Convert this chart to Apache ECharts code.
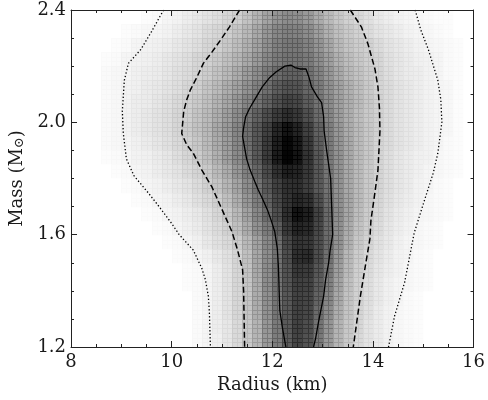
<!DOCTYPE html>
<html>
<head>
<meta charset="utf-8">
<script src="https://cdn.jsdelivr.net/npm/echarts@6/dist/echarts.min.js"></script>
<style>html,body{margin:0;padding:0;background:#fff}#c{width:488px;height:400px}</style>
</head>
<body>
<div id="c"></div>
<script>
// Cell centres (radius in km, mass in solar masses; mass rows listed top to bottom)
const radiusCenters = [8.1,8.3,8.5,8.7,8.9,9.1,9.3,9.5,9.7,9.9,10.1,10.3,10.5,10.7,10.9,11.1,11.3,11.5,11.7,11.9,12.1,12.3,12.5,12.7,12.9,13.1,13.3,13.5,13.7,13.9,14.1,14.3,14.5,14.7,14.9,15.1,15.3,15.5,15.7,15.9];
const massCenters = [2.375,2.325,2.275,2.225,2.175,2.125,2.075,2.025,1.975,1.925,1.875,1.825,1.775,1.725,1.675,1.625,1.575,1.525,1.475,1.425,1.375,1.325,1.275,1.225];
const cellW = 0.2, cellH = 0.05;

// Posterior density (0 = white, 100 = black), one row per mass centre
const densityRows = [
[0,0,0,0,0,0,0,1,2,4, 5,7,9,11,13,16,19,24,30,36, 42,45,44,40,33,27,22,18,15,12, 9,7,5,4,3,2,1,1,0,0],
[0,0,0,0,0,1,2,3,4,5, 7,9,11,14,16,19,23,28,34,41, 47,50,49,45,38,31,25,21,18,14, 11,9,7,5,4,3,2,1,0,0],
[0,0,0,0,1,2,4,5,6,7, 9,11,13,16,18,22,26,31,37,44, 50,53,53,49,42,35,28,23,20,18, 14,11,9,7,5,4,3,2,1,0],
[0,0,0,1,2,4,5,6,7,9, 11,13,16,18,21,25,29,34,40,47, 52,55,55,52,45,38,31,26,22,19, 16,12,10,8,6,5,4,2,1,0],
[0,0,0,2,3,4,6,7,8,10, 12,14,17,20,24,28,33,39,45,52, 58,62,62,56,49,41,34,28,24,20, 17,13,10,8,7,5,4,2,1,0],
[0,0,0,2,3,5,6,8,9,11, 13,16,19,23,27,32,37,43,50,57, 64,68,67,60,52,44,37,31,26,21, 17,14,11,9,7,5,4,3,1,0],
[0,0,0,2,3,5,7,8,10,12, 15,18,21,25,30,35,41,48,55,62, 69,74,72,64,55,46,38,32,27,22, 18,14,11,9,7,5,4,3,1,0],
[0,0,0,2,3,5,7,9,11,13, 16,19,23,27,32,38,45,54,62,70, 77,82,78,69,58,48,39,32,26,21, 18,14,11,9,7,5,4,3,1,0],
[0,0,0,2,3,5,7,9,11,13, 16,20,24,28,34,40,48,57,66,75, 85,92,86,75,62,51,41,33,27,22, 18,14,11,9,7,5,4,3,1,0],
[0,0,0,2,3,4,6,8,10,12, 15,18,22,27,33,39,47,57,66,77, 88,97,90,78,64,52,42,34,27,22, 17,14,11,9,7,5,4,2,1,0],
[0,0,0,1,2,3,5,6,8,10, 13,16,20,25,31,38,46,55,65,77, 89,98,92,80,66,53,43,34,27,22, 17,13,10,8,6,5,3,2,1,0],
[0,0,0,0,1,2,4,5,7,9, 11,14,17,21,27,33,41,50,60,71, 81,88,86,78,66,54,43,34,27,21, 17,13,10,8,6,4,3,2,1,0],
[0,0,0,0,0,1,2,4,5,7, 9,11,14,18,23,29,36,45,55,66, 75,81,82,76,65,55,43,34,27,21, 17,13,10,8,5,4,2,1,0,0],
[0,0,0,0,0,0,1,2,4,5, 7,9,12,15,19,25,32,41,51,62, 72,80,85,82,70,57,44,35,27,21, 16,12,9,7,5,3,2,1,0,0],
[0,0,0,0,0,0,0,1,2,4, 5,7,9,12,16,21,28,37,47,58, 70,82,92,88,74,59,45,35,26,20, 15,11,8,6,4,3,2,1,0,0],
[0,0,0,0,0,0,0,0,1,2, 4,6,8,11,14,18,25,33,43,52, 64,78,86,84,72,58,44,33,24,19, 14,10,7,5,3,2,1,0,0,0],
[0,0,0,0,0,0,0,0,0,1, 2,4,6,9,12,15,20,28,37,47, 57,72,80,79,70,58,43,31,22,17, 12,9,6,4,3,2,1,0,0,0],
[0,0,0,0,0,0,0,0,0,0, 1,2,4,6,9,12,17,25,35,45, 56,70,82,83,70,56,40,28,20,15, 11,8,5,4,2,1,0,0,0,0],
[0,0,0,0,0,0,0,0,0,0, 0,1,2,4,7,11,16,24,34,45, 56,68,78,77,66,53,38,27,19,14, 10,7,5,3,2,1,0,0,0,0],
[0,0,0,0,0,0,0,0,0,0, 0,1,2,4,7,11,16,23,33,45, 55,67,75,74,63,50,36,25,18,13, 9,6,4,3,2,1,0,0,0,0],
[0,0,0,0,0,0,0,0,0,0, 0,0,2,4,7,11,16,23,33,44, 54,66,74,73,61,48,34,24,18,13, 9,6,4,2,1,0,0,0,0,0],
[0,0,0,0,0,0,0,0,0,0, 0,0,2,4,7,11,16,23,32,43, 54,66,74,72,58,45,32,23,17,12, 8,5,3,2,1,0,0,0,0,0],
[0,0,0,0,0,0,0,0,0,0, 0,0,2,4,7,10,15,22,30,41, 52,65,74,70,55,42,30,22,16,11, 8,5,3,2,1,0,0,0,0,0],
[0,0,0,0,0,0,0,0,0,0, 0,0,2,4,6,10,15,21,29,40, 51,64,73,68,53,40,29,21,15,11, 8,5,3,2,1,0,0,0,0,0]
];

// Contours [radius, mass]
const solidContour = [[12.27,1.2],[12.2,1.27],[12.15,1.33],[12.14,1.38],[12.13,1.44],[12.12,1.49],[12.1,1.55],[12.05,1.61],[11.98,1.65],[11.9,1.69],[11.8,1.73],[11.72,1.76],[11.65,1.79],[11.56,1.83],[11.49,1.87],[11.45,1.91],[11.41,1.95],[11.43,1.98],[11.47,2.02],[11.55,2.05],[11.68,2.09],[11.8,2.126],[11.95,2.16],[12.08,2.18],[12.25,2.2],[12.37,2.204],[12.45,2.195],[12.55,2.19],[12.67,2.19],[12.73,2.16],[12.78,2.126],[12.9,2.09],[12.98,2.07],[13.02,2.02],[13.03,1.97],[13.08,1.9],[13.16,1.8],[13.18,1.7],[13.2,1.6],[13.15,1.545],[13.12,1.5],[13.06,1.44],[13.02,1.38],[12.92,1.29],[12.86,1.23],[12.82,1.2]];
const dashedLeft = [[11.35,2.4],[11.15,2.34],[10.96,2.29],[10.8,2.25],[10.63,2.21],[10.5,2.16],[10.37,2.115],[10.3,2.08],[10.24,2.04],[10.22,2.0],[10.2,1.96],[10.3,1.92],[10.43,1.89],[10.6,1.83],[10.8,1.77],[10.95,1.71],[11.1,1.65],[11.2,1.61],[11.31,1.545],[11.41,1.475],[11.43,1.4],[11.44,1.3],[11.45,1.2]];
const dashedRight = [[13.55,2.4],[13.77,2.34],[13.9,2.28],[14.04,2.19],[14.1,2.126],[14.13,2.05],[14.14,1.97],[14.12,1.9],[14.1,1.83],[14.04,1.75],[13.96,1.65],[13.94,1.585],[13.86,1.5],[13.75,1.38],[13.68,1.29],[13.61,1.2]];
const dottedLeft = [[9.84,2.4],[9.59,2.32],[9.39,2.26],[9.14,2.21],[9.06,2.15],[9.02,2.04],[9.04,1.96],[9.1,1.87],[9.25,1.81],[9.53,1.75],[9.75,1.7],[10.0,1.64],[10.15,1.6],[10.43,1.545],[10.6,1.48],[10.67,1.44],[10.73,1.38],[10.75,1.32],[10.77,1.2]];
const dottedRight = [[14.84,2.4],[14.95,2.33],[15.1,2.26],[15.29,2.15],[15.35,2.08],[15.37,2.0],[15.29,1.89],[15.2,1.82],[15.02,1.72],[14.82,1.606],[14.63,1.43],[14.43,1.31],[14.31,1.2]];

// Tick labels
const xTicks = [8, 10, 12, 14, 16];
const yTicks = [1.2, 1.6, 2.0, 2.4];

const cells = [];
massCenters.forEach(function (m, j) {
  radiusCenters.forEach(function (r, i) {
    const v = densityRows[j][i];
    if (v > 0) cells.push([r, m, v]);
  });
});

function gray(d) {
  const g = Math.round(255 * (1 - Math.max(0, Math.min(100, d)) / 100));
  return 'rgb(' + g + ',' + g + ',' + g + ')';
}
function seamDark(v) {
  const add = v < 40 ? 0.5 + 0.32 * v : 13 - (v - 40) * 0.1;
  return v + add;
}
function snap(x) { return Math.round(x * 10000) / 10000; }

const FONT = 'DejaVu Serif';
const TXT = '#1a1a1a';

function axisCommon(extra) {
  return Object.assign({
    z: 10,
    splitLine: { show: false },
    axisLine: { show: true, onZero: false, lineStyle: { color: '#222', width: 1 } },
    axisTick: { show: true, inside: true, length: 6, lineStyle: { color: '#222', width: 1 } },
    minorTick: { show: true, splitNumber: 4, length: 3, lineStyle: { color: '#222', width: 1 } },
    minorSplitLine: { show: false }
  }, extra);
}

const chart = echarts.init(document.getElementById('c'), null, { renderer: 'canvas' });
const lineBase = { type: 'line', showSymbol: false, symbol: 'none', clip: true, z: 5, silent: true, animation: false };

chart.setOption({
  animation: false,
  backgroundColor: '#fff',
  grid: { left: 69, right: 11, top: 10, bottom: 53, containLabel: false },
  xAxis: [
    axisCommon({
      type: 'value', min: 8, max: 16, interval: 2, position: 'bottom',
      name: 'Radius (km)', nameLocation: 'middle', nameGap: 28,
      nameTextStyle: { fontFamily: FONT, fontSize: 18, color: TXT },
      axisLabel: { fontFamily: FONT, fontSize: 18, color: TXT, margin: 6,
        formatter: function (v) { return xTicks.indexOf(v) >= 0 ? String(v) : ''; } }
    }),
    axisCommon({
      type: 'value', min: 8, max: 16, interval: 2, position: 'top',
      axisLabel: { show: false }
    })
  ],
  yAxis: [
    axisCommon({
      type: 'value', min: 1.2, max: 2.4, interval: 0.4, position: 'left',
      name: 'Mass (M{sub|⊙})', nameLocation: 'middle', nameGap: 33, nameRotate: 90,
      nameTextStyle: { fontFamily: FONT, fontSize: 18, color: TXT,
        rich: { sub: { fontFamily: FONT, fontSize: 13, color: TXT, padding: [6, 0, 0, 0] } } },
      axisLabel: { fontFamily: FONT, fontSize: 18, color: TXT, margin: 5,
        formatter: function (v) {
          const t = yTicks.find(function (y) { return Math.abs(y - v) < 1e-6; });
          return t !== undefined ? t.toFixed(1) : '';
        } }
    }),
    axisCommon({
      type: 'value', min: 1.2, max: 2.4, interval: 0.4, position: 'right',
      axisLabel: { show: false }
    })
  ],
  series: [
    {
      type: 'custom',
      xAxisIndex: 0, yAxisIndex: 0,
      data: cells,
      encode: { x: 0, y: 1 },
      clip: true,
      silent: true,
      z: 1,
      renderItem: function (params, api) {
        const r = api.value(0), m = api.value(1), v = api.value(2);
        const p0 = api.coord([snap(r - cellW / 2), snap(m + cellH / 2)]);
        const p1 = api.coord([snap(r + cellW / 2), snap(m - cellH / 2)]);
        const x0 = Math.round(p0[0]), y0 = Math.round(p0[1]);
        const x1 = Math.round(p1[0]), y1 = Math.round(p1[1]);
        const seam = gray(seamDark(v));
        const xm = Math.round((x0 + x1) / 2);
        const ya = Math.round(y0 + (y1 - y0) / 3), yb = Math.round(y0 + 2 * (y1 - y0) / 3);
        const ls = { stroke: seam, lineWidth: 1 };
        const children = [
          { type: 'rect', shape: { x: x0, y: y0, width: x1 - x0 + 0.5, height: y1 - y0 + 0.5 }, style: { fill: gray(v) } }
        ];
        [x0, xm].forEach(function (x) {
          children.push({ type: 'line', shape: { x1: x + 0.5, y1: y0, x2: x + 0.5, y2: y1 }, style: ls });
        });
        [y0, ya, yb].forEach(function (y) {
          children.push({ type: 'line', shape: { x1: x0, y1: y + 0.5, x2: x1, y2: y + 0.5 }, style: ls });
        });
        return { type: 'group', children: children };
      }
    },
    Object.assign({}, lineBase, { data: solidContour, lineStyle: { color: '#000', width: 1.3, type: 'solid' } }),
    Object.assign({}, lineBase, { data: dashedLeft, lineStyle: { color: '#000', width: 1.5, type: [6, 3] } }),
    Object.assign({}, lineBase, { data: dashedRight, lineStyle: { color: '#000', width: 1.5, type: [6, 3] } }),
    Object.assign({}, lineBase, { data: dottedLeft, lineStyle: { color: '#000', width: 1.3, type: [1.3, 2.2] } }),
    Object.assign({}, lineBase, { data: dottedRight, lineStyle: { color: '#000', width: 1.3, type: [1.3, 2.2] } })
  ]
});
</script>
</body>
</html>
